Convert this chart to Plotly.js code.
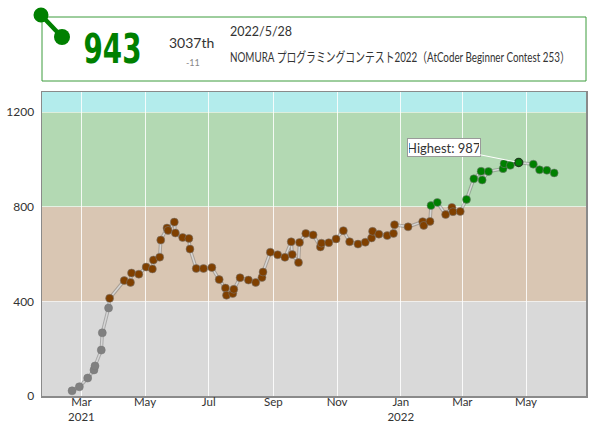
<!DOCTYPE html>
<html>
<head>
<meta charset="utf-8">
<script src="https://cdn.plot.ly/plotly-3.0.1.min.js"></script>
<style>html,body{margin:0;padding:0;background:#fff;}#chart{width:592px;height:426px;}</style>
</head>
<body>
<div id="chart"></div>
<script>
// ---- data ----
const contestDates = [
"2021-02-20","2021-02-27","2021-03-07","2021-03-13","2021-03-14","2021-03-20","2021-03-21","2021-03-27","2021-03-28",
"2021-04-11","2021-04-17","2021-04-18","2021-04-25","2021-05-02","2021-05-08","2021-05-09","2021-05-15","2021-05-16",
"2021-05-22","2021-05-23","2021-05-29","2021-05-30","2021-06-06","2021-06-12","2021-06-13","2021-06-19","2021-06-26",
"2021-07-04","2021-07-11","2021-07-17","2021-07-18","2021-07-24","2021-07-25","2021-07-31","2021-08-08","2021-08-15",
"2021-08-21","2021-08-22","2021-08-29","2021-09-05","2021-09-12","2021-09-18","2021-09-19","2021-09-25","2021-09-26",
"2021-10-02","2021-10-09","2021-10-16","2021-10-17","2021-10-24","2021-10-31","2021-11-07","2021-11-13","2021-11-21",
"2021-11-28","2021-12-04","2021-12-05","2021-12-11","2021-12-19","2021-12-25","2021-12-26","2022-01-08","2022-01-22",
"2022-01-23","2022-01-29","2022-01-30","2022-02-05","2022-02-13","2022-02-19","2022-02-20","2022-02-27","2022-03-05",
"2022-03-12","2022-03-19","2022-03-20","2022-03-26","2022-04-09","2022-04-10","2022-04-16","2022-04-24","2022-05-08",
"2022-05-14","2022-05-21","2022-05-28"
];
const ratings = [
22,39,76,110,127,194,267,372,413,
488,480,520,515,545,537,575,587,659,
710,700,735,689,670,666,621,539,539,
543,492,456,426,433,451,500,490,480,
501,524,608,597,586,652,598,564,649,
687,681,630,646,648,664,699,652,642,
650,668,696,684,678,687,724,715,737,
721,738,805,818,767,797,779,780,831,
918,950,913,949,961,982,975,987,980,
956,954,943
];
const tickDates = ["2021-03-01","2021-05-01","2021-07-01","2021-09-01","2021-11-01","2022-01-01","2022-03-01","2022-05-01"];
const tickLabels = ["Mar<br>2021","May","Jul","Sep","Nov","Jan<br>2022","Mar","May"];
const yTicks = [0,400,800,1200];
const bandEdges = [0,400,800,1200,1600];
const bandColors = ["rgb(217,217,217)","rgb(217,198,179)","rgb(179,217,179)","rgb(179,236,236)"];
const markerColors = ["#808080","#804000","#008000","#00C0C0"];

const latestRating = "943";
const latestRank = "3037th";
const latestDiff = "-11";
const latestDate = "2022/5/28";
const latestContest = "NOMURA プログラミングコンテスト2022（AtCoder Beginner Contest 253）";

// ---- derived ----
const yMax = 1285;
function colorOf(r){ let i = 0; for (let k=0;k<bandEdges.length-1;k++){ if (r>=bandEdges[k]) i=k; } return markerColors[i]; }
const ptColors = ratings.map(colorOf);
let hi = 0; ratings.forEach((r,i)=>{ if (r>ratings[hi]) hi=i; });
const lineW = ratings.map((r,i)=> i===hi ? 1.5 : 1);
const lineC = ratings.map((r,i)=> i===hi ? "#1f3f1f" : "rgba(120,120,120,0.55)");

const L=42, R=6, T=92, B=30, W=592, H=426;
const PW = W-L-R, PH = H-T-B;
const px = v => (v-L)/PW;
const py = v => (H-B-v)/PH;

const shapes = [];
for (let k=0;k<bandColors.length;k++){
  shapes.push({type:"rect", xref:"paper", yref:"y", x0:0, x1:1, y0:bandEdges[k], y1:Math.min(bandEdges[k+1], yMax),
    fillcolor:bandColors[k], line:{width:0}, layer:"below"});
}
// header panel
shapes.push({type:"rect", xref:"paper", yref:"paper", x0:px(42), x1:px(586), y0:py(81), y1:py(17),
  line:{color:"#3c9c3c", width:1}, fillcolor:"#fff"});
shapes.push({type:"line", xref:"paper", yref:"paper", x0:px(41), y0:py(15), x1:px(62), y1:py(37),
  line:{color:"#008000", width:4.5}});
const circ = (cx,cy,r)=>({type:"circle", xref:"paper", yref:"paper", x0:px(cx-r), x1:px(cx+r), y0:py(cy+r), y1:py(cy-r),
  fillcolor:"#008000", line:{width:0}});
shapes.push(circ(41,15,7.5));
shapes.push(circ(62,37,8));

const annotations = [
  {xref:"paper", yref:"paper", x:px(112), y:py(49), xanchor:"center", yanchor:"middle", showarrow:false,
   text:latestRating, font:{family:"DejaVu Sans Condensed, DejaVu Sans, sans-serif", size:41, color:"#008000", weight:700}},
  {xref:"paper", yref:"paper", x:px(191), y:py(42), xanchor:"center", yanchor:"middle", showarrow:false,
   text:latestRank, font:{family:"Lato", size:14, color:"#333"}},
  {xref:"paper", yref:"paper", x:px(193), y:py(62), xanchor:"center", yanchor:"middle", showarrow:false,
   text:latestDiff, font:{family:"Lato", size:9, color:"#888"}},
  {xref:"paper", yref:"paper", x:px(228), y:py(31), xanchor:"left", yanchor:"middle", showarrow:false,
   text:latestDate, font:{family:"Lato", size:12.5, color:"#333"}},
  {xref:"paper", yref:"paper", x:px(228), y:py(57), xanchor:"left", yanchor:"middle", align:"left", showarrow:false,
   text:latestContest, font:{family:"Lato, 'Noto Sans CJK JP'", size:13.5, color:"#333"}},
  {xref:"x", yref:"y", x:contestDates[hi], y:ratings[hi], ax:-75, ay:-15, showarrow:true, arrowhead:0,
   arrowcolor:"#ffffff", arrowwidth:1, standoff:4, text:"Highest: "+ratings[hi],
   font:{family:"Lato", size:13, color:"#333"}, bgcolor:"#fff", bordercolor:"#9a9a9a", borderwidth:1,
   borderpad:1, width:70, height:15}
];

const traces = [
  {x:contestDates, y:ratings, type:"scatter", mode:"lines", line:{color:"rgba(110,110,110,0.45)", width:3.5}, hoverinfo:"skip"},
  {x:contestDates, y:ratings, type:"scatter", mode:"lines", line:{color:"#d6d6d6", width:1.5}, hoverinfo:"skip"},
  {x:contestDates, y:ratings, type:"scatter", mode:"markers",
   marker:{size:8, color:ptColors, line:{color:lineC, width:lineW}}}
];

const layout = {
  width:W, height:H, margin:{l:L, r:R, t:T, b:B}, paper_bgcolor:"rgba(0,0,0,0)", plot_bgcolor:"#fff",
  showlegend:false,
  xaxis:{type:"date", range:["2021-01-22 05:00","2022-06-27 12:00"], tickvals:tickDates, ticktext:tickLabels,
    showgrid:true, gridcolor:"rgba(255,255,255,0.85)", gridwidth:1, zeroline:false, ticks:"",
    showline:true, linecolor:"#8a8a8a", linewidth:1.5, mirror:true, ticklabelstandoff:-5,
    tickfont:{family:"Lato", size:11.5, color:"#333"}, fixedrange:true},
  yaxis:{range:[0,yMax], tickvals:yTicks, showgrid:true, gridcolor:"rgba(255,255,255,0.55)", gridwidth:1,
    zeroline:false, ticks:"", showline:true, linecolor:"#8a8a8a", linewidth:1.5, mirror:true,
    ticklabelstandoff:4, tickfont:{family:"Lato", size:12, color:"#333"}, fixedrange:true},
  shapes:shapes, annotations:annotations
};

// horizontally condensed header texts (the reference squeezes them): target widths in px
const condensed = {0: 58, 4: 340};
Plotly.newPlot("chart", traces, layout, {staticPlot:true, displayModeBar:false}).then(gd => {
  const texts = gd.querySelectorAll(".annotation-text");
  Object.keys(condensed).forEach(k => {
    const t = texts[+k];
    if (!t) return;
    const bb = t.getBBox();
    const s = condensed[k] / bb.width;
    const ax = (+k === 4) ? bb.x : bb.x + bb.width / 2;
    const prev = t.getAttribute("transform") || "";
    t.setAttribute("transform", prev + ` translate(${ax},0) scale(${s},1) translate(${-ax},0)`);
    // shrink the (invisible) annotation box to the condensed text
    const g = t.closest(".annotation");
    if (g) g.querySelectorAll("rect").forEach(r => {
      const w = +r.getAttribute("width");
      if (w) {
        const x = +(r.getAttribute("x") || 0);
        const nw = w * s;
        r.setAttribute("width", nw);
        if (+k !== 4) r.setAttribute("x", x + (w - nw) / 2);
      }
    });
  });
});
</script>
</body>
</html>
